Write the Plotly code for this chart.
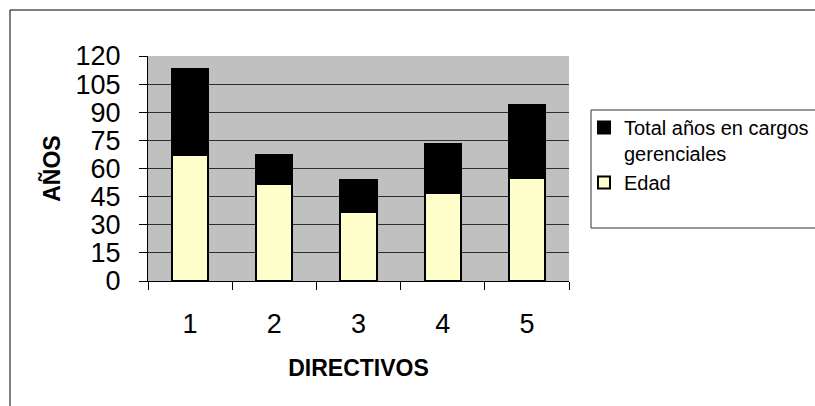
import plotly.graph_objects as go

# Directivos y años
directivos = ["1", "2", "3", "4", "5"]
edad = [67, 52, 37, 47, 55]
anios_cargos = [46, 15, 17, 26, 39]
y_ticks = [0, 15, 30, 45, 60, 75, 90, 105, 120]
grid_vals = [15, 30, 45, 60, 75, 90, 105]

FONT = "Arial, Liberation Sans, sans-serif"

W, H = 815, 406
ML, MR, MT, MB = 148, 246, 56, 125
PW, PH = W - ML - MR, H - MT - MB


def px_to_paper_x(px):
    return (px - ML) / PW


def px_to_paper_y(py):
    return (H - MB - py) / PH


fig = go.Figure()
fig.add_trace(go.Bar(
    x=directivos, y=edad, name="Edad",
    marker=dict(color="#FFFFCC", line=dict(color="black", width=2)),
))
fig.add_trace(go.Bar(
    x=directivos, y=anios_cargos, name="Total años en cargos<br>gerenciales",
    marker=dict(color="black", line=dict(color="black", width=2)),
))

fig.update_layout(
    width=W, height=H,
    margin=dict(l=ML, r=MR, t=MT, b=MB, autoexpand=False),
    barmode="stack",
    bargap=0.57,
    plot_bgcolor="#C0C0C0",
    paper_bgcolor="white",
    font=dict(family=FONT, color="black"),
    showlegend=True,
    legend=dict(
        x=px_to_paper_x(584), y=px_to_paper_y(108),
        xanchor="left", yanchor="top",
        bgcolor="rgba(0,0,0,0)", borderwidth=0,
        font=dict(family=FONT, size=20, color="black"),
        traceorder="reversed", valign="top",
        tracegroupgap=6,
    ),
    xaxis=dict(
        type="category",
        showgrid=False,
        showline=True, linecolor="black", linewidth=1,
        ticks="outside", ticklen=8, tickcolor="black",
        tickson="boundaries",
        tickfont=dict(family=FONT, size=27, color="black"),
        ticklabelstandoff=19,
        title=dict(text="<b>DIRECTIVOS</b>", font=dict(family=FONT, size=23, color="black"), standoff=21),
    ),
    yaxis=dict(
        range=[0, 120],
        tickvals=y_ticks,
        showgrid=False,
        minor=dict(tickvals=grid_vals, showgrid=True, gridcolor="#2e2e2e", gridwidth=1.2, ticks=""),
        zeroline=False,
        showline=True, linecolor="black", linewidth=1,
        ticks="outside", ticklen=8, tickcolor="black",
        tickfont=dict(family=FONT, size=27, color="black"),
        ticklabelstandoff=13,
        title=dict(text="<b>AÑOS</b>", font=dict(family=FONT, size=23, color="black"), standoff=8),
    ),
    shapes=[
        # legend frame
        dict(
            type="rect", xref="paper", yref="paper",
            x0=px_to_paper_x(591), x1=px_to_paper_x(830),
            y0=px_to_paper_y(110), y1=px_to_paper_y(228),
            line=dict(color="#333333", width=1), fillcolor="white",
            layer="below",
        ),
        # chart frame
        dict(
            type="rect", xref="paper", yref="paper",
            x0=px_to_paper_x(10), x1=px_to_paper_x(840),
            y0=px_to_paper_y(10), y1=px_to_paper_y(430),
            line=dict(color="black", width=1), fillcolor="rgba(0,0,0,0)",
            layer="above",
        ),
    ],
)

fig.write_html("out.html")
